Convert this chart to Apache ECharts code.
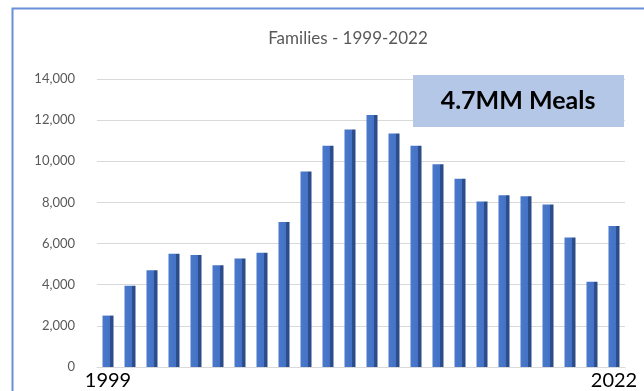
<!DOCTYPE html>
<html>
<head>
<meta charset="utf-8">
<script src="https://cdn.jsdelivr.net/npm/echarts@6/dist/echarts.min.js"></script>
<style>
html,body{margin:0;padding:0;background:#fff;}
#c{width:644px;height:391px;}
</style>
</head>
<body>
<div id="c"></div>
<script>
const years = ["1999","2000","2001","2002","2003","2004","2005","2006","2007","2008","2009","2010","2011","2012","2013","2014","2015","2016","2017","2018","2019","2020","2021","2022"];
const families = [2500,3950,4700,5500,5450,4950,5280,5550,7050,9500,10750,11550,12250,11350,10750,9850,9150,8050,8350,8300,7900,6300,4150,6850];
const titleText = "Families - 1999-2022";
const noteText = "4.7MM Meals";
const yMin = 0, yMax = 14000, yStep = 2000;

const chart = echarts.init(document.getElementById('c'), null, {renderer:'canvas'});
chart.setOption({
  animation:false,
  backgroundColor:'#ffffff',
  title:{
    text:titleText, left:343, top:25, textAlign:'center',
    textStyle:{fontFamily:'Lato', fontSize:17, fontWeight:'normal', color:'#595959'}
  },
  grid:{left:97, right:19, top:79, bottom:23, containLabel:false},
  xAxis:{
    type:'category', data:years,
    axisLine:{show:true, lineStyle:{color:'#d9d9d9'}},
    axisTick:{show:false},
    axisLabel:{
      interval:0, margin:4, fontFamily:'Lato', fontSize:20, color:'#000',
      formatter:function(v,i){ return (i===0||i===years.length-1)? v : ''; }
    }
  },
  yAxis:{
    type:'value', min:yMin, max:yMax, interval:yStep,
    axisLine:{show:false}, axisTick:{show:false},
    axisLabel:{margin:22, fontFamily:'Lato', fontSize:13, color:'#595959',
      formatter:function(v){return v.toLocaleString('en-US');}},
    splitLine:{lineStyle:{color:'#d9d9d9', width:1}}
  },
  series:[{
    type:'bar', data:families, barWidth:11,
    itemStyle:{
      color:new echarts.graphic.LinearGradient(0,0,1,0,[
        {offset:0,color:'#4a78cc'},{offset:0.7,color:'#4472c4'},
        {offset:0.71,color:'#2d4f8f'},{offset:1,color:'#2a4a86'}
      ])
    }
  }],
  graphic:[
    {type:'rect', left:10, top:6, shape:{width:700, height:500},
     style:{fill:null, stroke:'#6a8fd6', lineWidth:2}, silent:true, z:-1},
    {type:'rect', left:413, top:75, shape:{width:211, height:52},
     style:{fill:'#b4c7e7'}, z:10},
    {type:'text', x:518, y:101, z:11,
     style:{text:noteText, fontFamily:'Lato', fontWeight:'bold', fontSize:25,
       fill:'#000', textAlign:'center', textVerticalAlign:'middle'}}
  ]
});
</script>
</body>
</html>
